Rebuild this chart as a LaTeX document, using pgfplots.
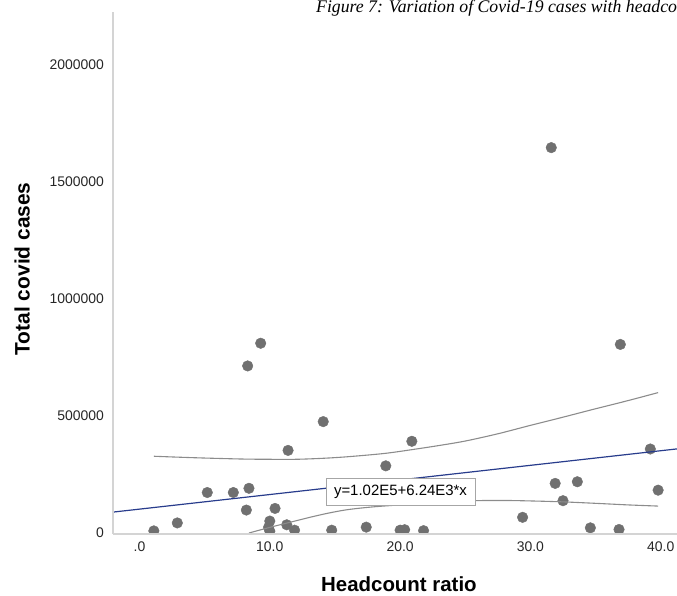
\documentclass[border=0pt]{standalone}
\usepackage{fontspec}
\setmainfont{Liberation Sans}
\newfontfamily\titlefont{Liberation Serif}
\usepackage{pgfplots}
\pgfplotsset{compat=1.18}
\definecolor{dotgray}{RGB}{112,112,112}
\definecolor{regblue}{RGB}{40,60,140}
\definecolor{cigray}{RGB}{140,140,140}
\definecolor{axgray}{RGB}{212,212,212}
\begin{document}
\begin{tikzpicture}[x=1bp,y=1bp]
\useasboundingbox (0,0) rectangle (677,596);
\clip (0,0) rectangle (677,596);
\node[anchor=base west, inner sep=0, font=\titlefont\itshape\fontsize{17.8}{20}\selectfont] at (316,583) {Figure 7: Variation of Covid-19 cases with headcount ratio};
\begin{axis}[
  at={(113bp,62bp)}, anchor=south west,
  scale only axis, width=564bp, height=522bp,
  xmin=-2.034, xmax=41.25, ymin=-4300, ymax=2226800,
  axis x line*=bottom, axis y line*=left,
  axis line style={draw=axgray, line width=2bp},
  axis on top,
  major tick length=0pt,
  xtick={0,10,20,30,40}, xticklabels={.0,10.0,20.0,30.0,40.0},
  ytick={0,500000,1000000,1500000,2000000}, yticklabels={0,500000,1000000,1500000,2000000},
  tick label style={font=\fontsize{14}{16}\selectfont, inner sep=0pt, text=black!85},
  xticklabel style={anchor=north, yshift=-8bp},
  yticklabel style={anchor=east, xshift=-9bp},
  xlabel={Headcount ratio}, ylabel={Total covid cases},
  label style={font=\bfseries\fontsize{20.5}{24}\selectfont},
  xlabel style={at={(axis description cs:0.507,-0.096)}, anchor=center},
  ylabel style={font=\bfseries\fontsize{21}{24}\selectfont, at={(axis description cs:-0.161,0.508)}, anchor=center},
  clip marker paths=true,
]
\addplot[only marks, mark=*, mark size=5.3bp, mark options={fill=dotgray, draw=dotgray}] coordinates {
(1.1,9000) (2.9,43000) (5.2,173000) (7.2,173000) (8.4,191000) (8.2,98000)
(8.3,714000) (9.3,811000) (10.4,105000) (10.0,51000) (9.9,24000) (10.0,8000)
(11.3,35000) (11.9,12000) (11.4,353000) (14.1,476000) (14.75,12000) (17.4,25000)
(18.9,287000) (20.0,12000) (20.35,14000) (20.9,392000) (21.8,10000) (29.4,67000)
(31.6,1647000) (31.9,212000) (32.5,138000) (33.6,219000) (34.6,22000) (36.8,15000)
(36.9,806000) (39.2,359000) (39.8,183000)
};
\addplot[regblue, line width=1.2bp] coordinates {(-2.034,89300) (41.25,359400)};
\addplot[cigray, line width=1.1bp, smooth] coordinates {
(1.1,328000) (3,324000) (5.2,320000) (8,316000) (10,315000) (12,315000) (14,319000)
(16,326000) (18.8,340000) (21,357000) (23,374000) (25,393000) (27.5,424000)
(30,460000) (32.5,495000) (35,531000) (37.5,566000) (39.8,600000)
};
\addplot[cigray, line width=1.1bp, smooth] coordinates {
(8.4,0) (10,24000) (11.5,45000) (13,66000) (14.5,85000) (16,100000) (18,112000)
(20.8,123000) (23,131000) (25.7,138000) (28,139000) (30,137000) (32.5,133000)
(35.3,126000) (37.5,120000) (39.8,115000)
};
\node[draw=gray!70, fill=white, inner sep=0pt, minimum width=149bp, minimum height=27bp, font=\fontsize{15}{17}\selectfont] at (axis cs:20.03,176000) {y=1.02E5+6.24E3*x};
\end{axis}
\end{tikzpicture}
\end{document}
